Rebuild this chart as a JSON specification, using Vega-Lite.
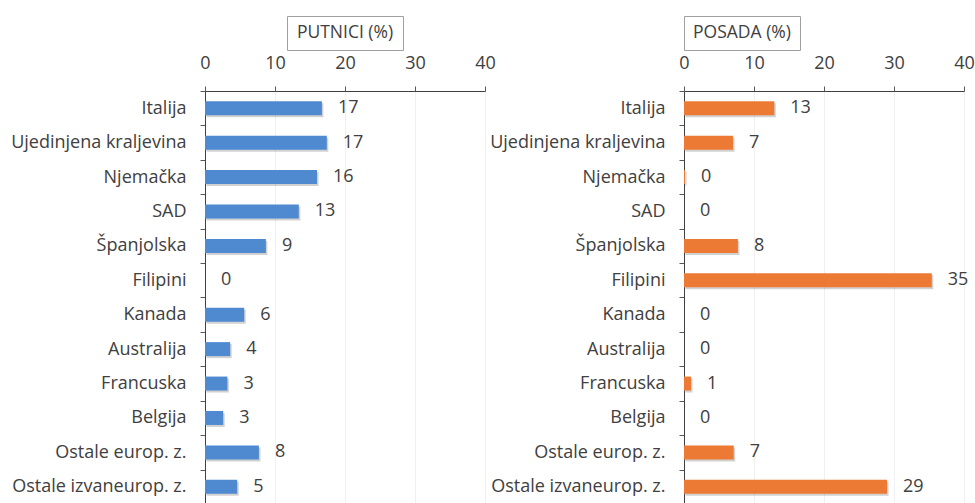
{
  "$schema": "https://vega.github.io/schema/vega-lite/v6.json",
  "background": "white",
  "padding": {"left": 10, "top": 15, "right": 0, "bottom": 0},
  "config": {
    "font": "Open Sans",
    "view": {"stroke": null},
    "axis": {"labelFont": "Open Sans", "labelColor": "#404040", "labelFontSize": 18, "domainColor": "#404040", "tickColor": "#595959", "title": null}
  },
  "datasets": {
    "putnici": [
      {"c": "Italija", "v": 16.7, "l": "17"},
      {"c": "Ujedinjena kraljevina", "v": 17.4, "l": "17"},
      {"c": "Njemačka", "v": 16.0, "l": "16"},
      {"c": "SAD", "v": 13.4, "l": "13"},
      {"c": "Španjolska", "v": 8.7, "l": "9"},
      {"c": "Filipini", "v": 0, "l": "0"},
      {"c": "Kanada", "v": 5.6, "l": "6"},
      {"c": "Australija", "v": 3.6, "l": "4"},
      {"c": "Francuska", "v": 3.2, "l": "3"},
      {"c": "Belgija", "v": 2.6, "l": "3"},
      {"c": "Ostale europ. z.", "v": 7.7, "l": "8"},
      {"c": "Ostale izvaneurop. z.", "v": 4.6, "l": "5"}
    ],
    "posada": [
      {"c": "Italija", "v": 12.9, "l": "13"},
      {"c": "Ujedinjena kraljevina", "v": 7.0, "l": "7"},
      {"c": "Njemačka", "v": 0.15, "l": "0"},
      {"c": "SAD", "v": 0, "l": "0"},
      {"c": "Španjolska", "v": 7.7, "l": "8"},
      {"c": "Filipini", "v": 35.4, "l": "35"},
      {"c": "Kanada", "v": 0, "l": "0"},
      {"c": "Australija", "v": 0, "l": "0"},
      {"c": "Francuska", "v": 1.0, "l": "1"},
      {"c": "Belgija", "v": 0, "l": "0"},
      {"c": "Ostale europ. z.", "v": 7.1, "l": "7"},
      {"c": "Ostale izvaneurop. z.", "v": 29.0, "l": "29"}
    ],
    "titles": [{"t": "PUTNICI (%)"}, {"t": "POSADA (%)"}]
  },
  "columns": 2,
  "align": "each",
  "bounds": "flush",
  "center": true,
  "spacing": {"row": 41, "column": 199},
  "concat": [
    {
      "width": 116, "height": 34,
      "view": {"stroke": "#a0a0a0", "strokeWidth": 1},
      "data": {"name": "titles"},
      "transform": [{"filter": "datum.t == 'PUTNICI (%)'"}],
      "mark": {"type": "text", "fontSize": 17.5, "color": "#404040", "font": "Open Sans"},
      "encoding": {"text": {"field": "t"}}
    },
    {
      "width": 116, "height": 34,
      "view": {"stroke": "#a0a0a0", "strokeWidth": 1},
      "data": {"name": "titles"},
      "transform": [{"filter": "datum.t == 'POSADA (%)'"}],
      "mark": {"type": "text", "fontSize": 17.5, "color": "#404040", "font": "Open Sans"},
      "encoding": {"text": {"field": "t"}}
    },
    {
      "width": 280, "height": 413,
      "data": {"name": "putnici"},
      "encoding": {
        "y": {"field": "c", "type": "nominal", "sort": null,
              "scale": {"paddingInner": 0, "paddingOuter": 0},
              "axis": {"tickBand": "extent", "tickSize": 5, "labelPadding": 14, "labelLimit": 300, "grid": false}},
        "x": {"field": "v", "type": "quantitative", "scale": {"domain": [0, 40], "nice": false},
              "axis": {"orient": "top", "values": [0, 10, 20, 30, 40], "tickSize": 5, "labelPadding": 14, "grid": true, "gridColor": "#f0f0f0", "labelFlush": false}}
      },
      "layer": [
        {"mark": {"type": "bar", "color": "#000000", "opacity": 0.18, "size": 14, "xOffset": 1.5, "yOffset": 2}},
        {"mark": {"type": "bar", "color": "#4f8ad0", "size": 14}},
        {"mark": {"type": "text", "align": "left", "dx": 16, "fontSize": 18, "color": "#404040"},
         "encoding": {"text": {"field": "l"}}}
      ]
    },
    {
      "width": 280, "height": 413,
      "data": {"name": "posada"},
      "encoding": {
        "y": {"field": "c", "type": "nominal", "sort": null,
              "scale": {"paddingInner": 0, "paddingOuter": 0},
              "axis": {"tickBand": "extent", "tickSize": 5, "labelPadding": 14, "labelLimit": 300, "grid": false}},
        "x": {"field": "v", "type": "quantitative", "scale": {"domain": [0, 40], "nice": false},
              "axis": {"orient": "top", "values": [0, 10, 20, 30, 40], "tickSize": 5, "labelPadding": 14, "grid": true, "gridColor": "#f0f0f0", "labelFlush": false}}
      },
      "layer": [
        {"mark": {"type": "bar", "color": "#000000", "opacity": 0.18, "size": 14, "xOffset": 1.5, "yOffset": 2}},
        {"mark": {"type": "bar", "color": "#ec7a34", "size": 14}},
        {"mark": {"type": "text", "align": "left", "dx": 16, "fontSize": 18, "color": "#404040"},
         "encoding": {"text": {"field": "l"}}}
      ]
    }
  ]
}
